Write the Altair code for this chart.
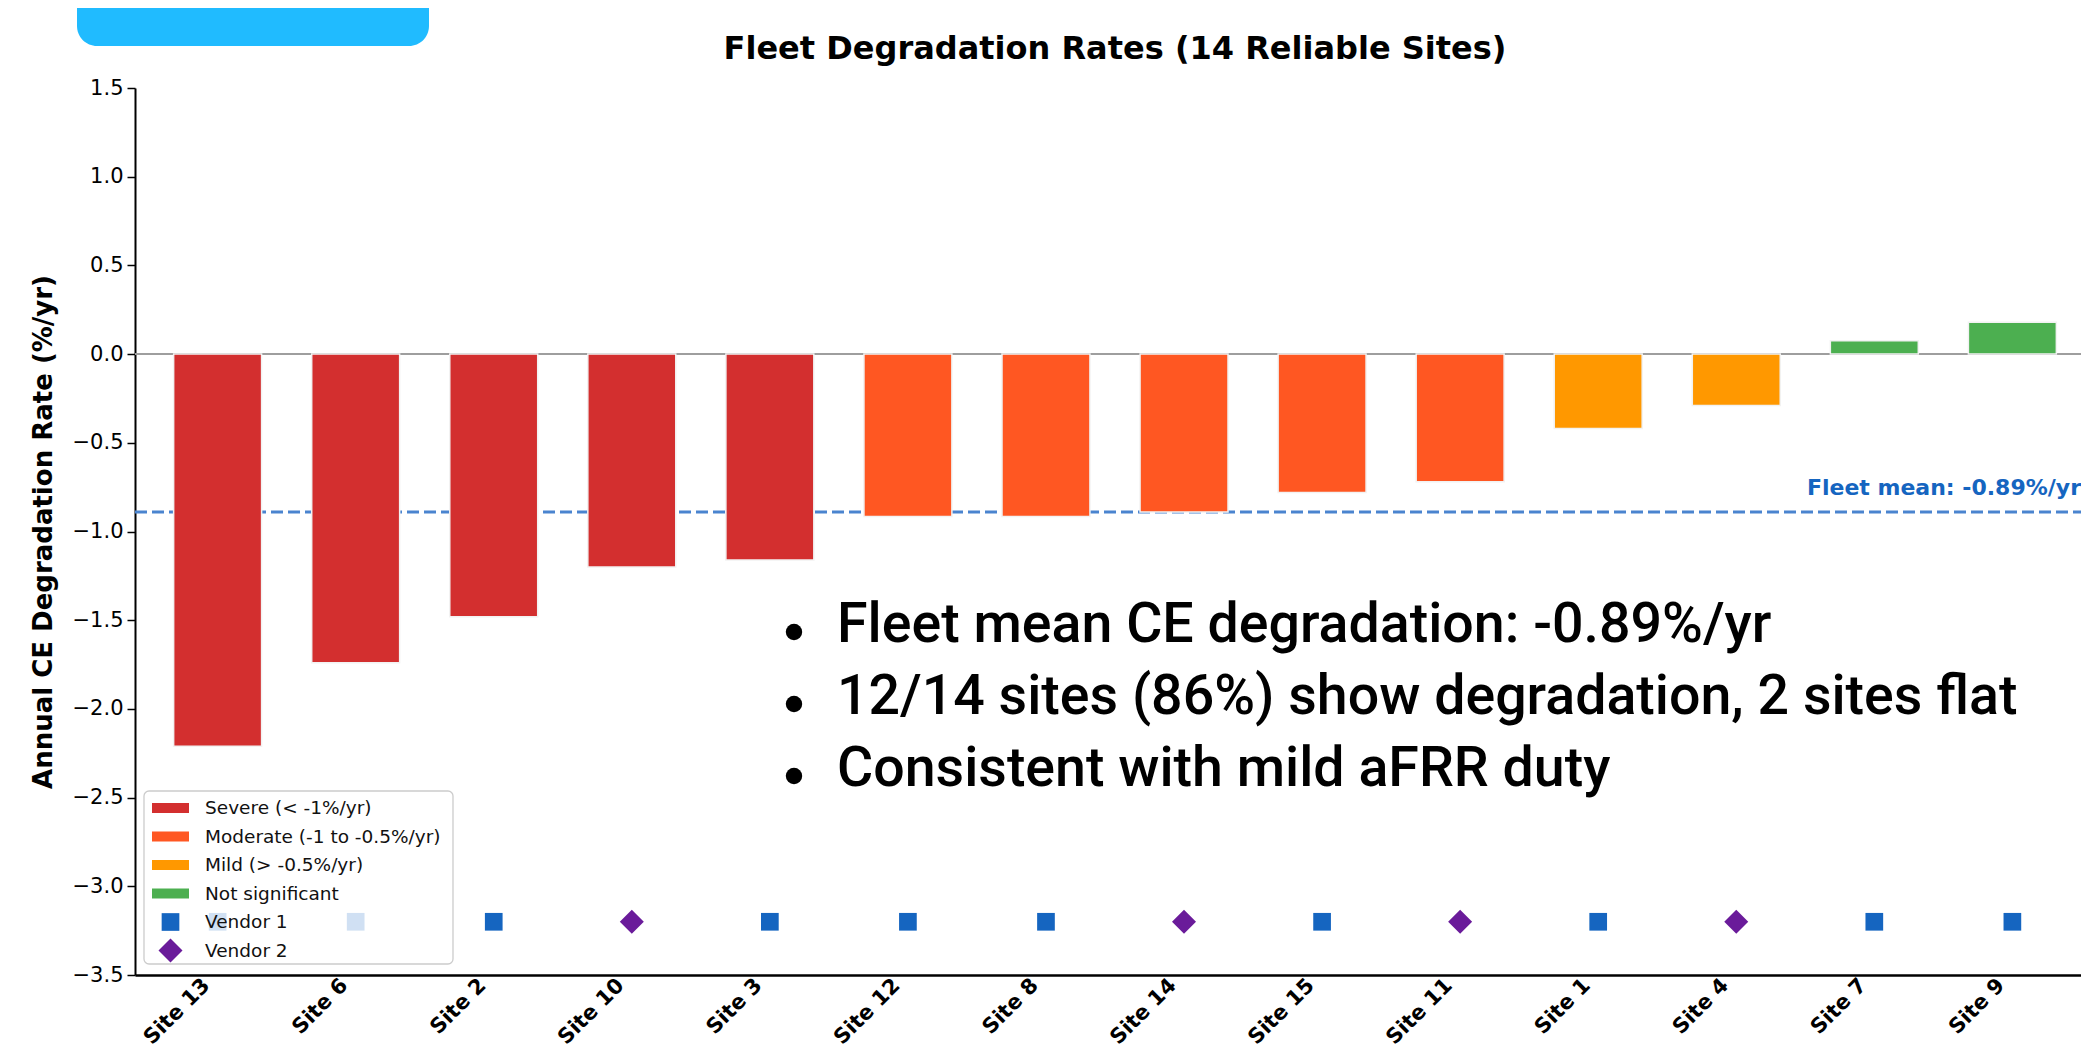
import altair as alt
import pandas as pd

# ---------------- data ----------------
sites = ["Site 13", "Site 6", "Site 2", "Site 10", "Site 3", "Site 12", "Site 8",
         "Site 14", "Site 15", "Site 11", "Site 1", "Site 4", "Site 7", "Site 9"]
rates = [-2.21, -1.74, -1.48, -1.20, -1.16, -0.915, -0.915,
         -0.89, -0.78, -0.72, -0.42, -0.29, 0.075, 0.18]
categories = ["Severe (< -1%/yr)", "Severe (< -1%/yr)", "Severe (< -1%/yr)",
              "Severe (< -1%/yr)", "Severe (< -1%/yr)",
              "Moderate (-1 to -0.5%/yr)", "Moderate (-1 to -0.5%/yr)",
              "Moderate (-1 to -0.5%/yr)", "Moderate (-1 to -0.5%/yr)",
              "Moderate (-1 to -0.5%/yr)",
              "Mild (> -0.5%/yr)", "Mild (> -0.5%/yr)",
              "Not significant", "Not significant"]
vendors = ["Vendor 1", "Vendor 1", "Vendor 1", "Vendor 2", "Vendor 1", "Vendor 1", "Vendor 1",
           "Vendor 2", "Vendor 1", "Vendor 2", "Vendor 1", "Vendor 2", "Vendor 1", "Vendor 1"]
marker_level = -3.2
fleet_mean = -0.89

category_names = ["Severe (< -1%/yr)", "Moderate (-1 to -0.5%/yr)",
                  "Mild (> -0.5%/yr)", "Not significant"]
category_colors = ["#D32F2F", "#FF5722", "#FF9800", "#4CAF50"]
vendor_names = ["Vendor 1", "Vendor 2"]
vendor_colors = ["#1565C0", "#6A1B9A"]
vendor_shapes = ["square", "diamond"]
vendor_sizes = [313, 576]

y_ticks = [-3.5, -3.0, -2.5, -2.0, -1.5, -1.0, -0.5, 0.0, 0.5, 1.0, 1.5]

chart_title = "Fleet Degradation Rates (14 Reliable Sites)"
y_title = "Annual CE Degradation Rate (%/yr)"
bullets = ["Fleet mean CE degradation: -0.89%/yr",
           "12/14 sites (86%) show degradation, 2 sites flat",
           "Consistent with mild aFRR duty"]
header_text = "Results"

df = pd.DataFrame({"site": sites, "rate": rates, "category": categories, "vendor": vendors})
one = pd.DataFrame({"k": [0]})

FONT = "DejaVu Sans"
PLOT_W = 1946
RANGE_W = 1960
PLOT_H = 887

x_enc = alt.X(
    "site:N", sort=sites,
    scale=alt.Scale(range=[0, RANGE_W], paddingInner=0.363, paddingOuter=0.28),
    axis=alt.Axis(title=None, labelAngle=-45, labelAlign="right", labelBaseline="middle",
                  labelFont=FONT, labelFontSize=21, labelFontWeight="bold", labelColor="black",
                  ticks=False, labelPadding=7, labelOffset=-11, labelOverlap=False,
                  domainColor="black", domainWidth=2.5),
)
y_scale = alt.Scale(domain=[-3.5, 1.5], nice=False, zero=False)
y_enc = alt.Y(
    "rate:Q", scale=y_scale,
    axis=alt.Axis(title=y_title, values=y_ticks, format=".1f", grid=False,
                  labelFont=FONT, labelFontSize=21, labelColor="black",
                  tickColor="black", tickSize=8, tickWidth=1.5, labelPadding=4,
                  domainColor="black", domainWidth=2,
                  titleFont=FONT, titleFontSize=26, titleFontWeight="bold",
                  titleColor="black", titlePadding=16),
)

zero_rule = alt.Chart(one).mark_rule(color="#9e9e9e", strokeWidth=2).encode(
    y=alt.datum(0), x=alt.value(0), x2=alt.value(RANGE_W))

mean_rule = alt.Chart(one).mark_rule(color="#4A84CF", strokeWidth=3, strokeDash=[12, 5]).encode(
    y=alt.datum(fleet_mean), x=alt.value(0), x2=alt.value(RANGE_W))

bars = alt.Chart(df).mark_bar(stroke="#f2f2f2", strokeWidth=1.5).encode(
    x=x_enc, y=y_enc,
    color=alt.Color("category:N", scale=alt.Scale(domain=category_names, range=category_colors),
                    legend=None))

mean_text = alt.Chart(one).mark_text(
    text=f"Fleet mean: {fleet_mean:.2f}%/yr", font=FONT, fontSize=22, fontWeight="bold",
    color="#1565C0", align="right", baseline="alphabetic", dy=-17).encode(
    x=alt.value(PLOT_W), y=alt.datum(fleet_mean))

markers = alt.Chart(df).mark_point(filled=True, opacity=1, strokeWidth=0).encode(
    x=x_enc, y=alt.datum(marker_level),
    shape=alt.Shape("vendor:N", scale=alt.Scale(domain=vendor_names, range=vendor_shapes), legend=None),
    fill=alt.Fill("vendor:N", scale=alt.Scale(domain=vendor_names, range=vendor_colors), legend=None),
    size=alt.Size("vendor:N", scale=alt.Scale(domain=vendor_names, range=vendor_sizes), legend=None))

# ---------------- manual legend ----------------
legend_layers = [
    alt.Chart(one).mark_rect(fill="white", fillOpacity=0.8, stroke="#cccccc", strokeWidth=1.3,
                             cornerRadius=5).encode(
        x=alt.value(9), x2=alt.value(318), y=alt.value(703), y2=alt.value(876))
]
row0, row_step = 720, 28.5
legend_labels = category_names + vendor_names
for i, lab in enumerate(legend_labels):
    ry = row0 + i * row_step
    if i < len(category_names):
        legend_layers.append(alt.Chart(one).mark_rect(color=category_colors[i]).encode(
            x=alt.value(17), x2=alt.value(54), y=alt.value(ry - 5), y2=alt.value(ry + 5)))
    else:
        j = i - len(category_names)
        legend_layers.append(alt.Chart(one).mark_point(
            filled=True, opacity=1, strokeWidth=0, shape=vendor_shapes[j],
            size=vendor_sizes[j], color=vendor_colors[j]).encode(
            x=alt.value(35.5), y=alt.value(ry)))
    legend_layers.append(alt.Chart(one).mark_text(
        text=lab, font=FONT, fontSize=18.5, color="#111111", align="left", baseline="middle").encode(
        x=alt.value(70), y=alt.value(ry)))

# ---------------- title, slide overlays ----------------
title_mark = alt.Chart(one).mark_text(
    text=chart_title, font=FONT, fontSize=32, fontWeight="bold", color="black",
    align="center", baseline="alphabetic").encode(x=alt.value(RANGE_W / 2), y=alt.value(-29))

header_box = alt.Chart(one).mark_rect(color="#20BBFF", cornerRadius=20).encode(
    x=alt.value(-58), x2=alt.value(294), y=alt.value(-110), y2=alt.value(-42))
header_label = alt.Chart(one).mark_text(
    text=header_text, font="Roboto", fontSize=70, fontWeight="bold", color="black",
    align="center", baseline="alphabetic").encode(x=alt.value(118), y=alt.value(-86))

bullet_layers = []
for i in range(len(bullets)):
    bullet_layers.append(alt.Chart(one).mark_circle(color="black", opacity=1, size=270).encode(
        x=alt.value(659), y=alt.value(544 + 72 * i)))
bullet_text = alt.Chart(one).mark_text(
    text=bullets, font="Roboto", fontSize=55.5, fontWeight=500, color="black",
    align="left", baseline="alphabetic", lineHeight=72).encode(x=alt.value(702), y=alt.value(554))

chart = alt.layer(
    zero_rule, mean_rule, bars, mean_text, markers, *legend_layers,
    title_mark, header_box, header_label, *bullet_layers, bullet_text,
).properties(
    width=PLOT_W, height=PLOT_H,
    autosize=alt.AutoSizeParams(type="none"),
    padding={"left": 127, "top": 80, "right": 0, "bottom": 74},
).configure_view(stroke=None)

chart.save("out.html", embed_options={"renderer": "svg", "actions": False})
